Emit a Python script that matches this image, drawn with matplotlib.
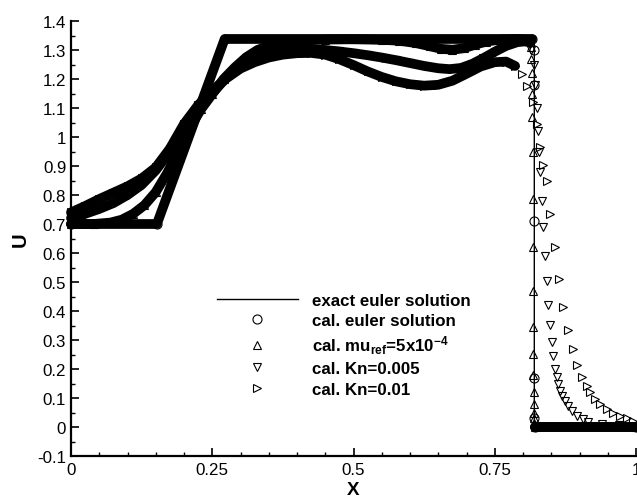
import matplotlib
matplotlib.use("Agg")
import matplotlib.pyplot as plt
from matplotlib.lines import Line2D
from matplotlib.ticker import MultipleLocator, FuncFormatter

plt.rcParams['font.family'] = ['Liberation Sans', 'DejaVu Sans']
plt.rcParams['mathtext.fontset'] = 'custom'
plt.rcParams['mathtext.rm'] = 'Liberation Sans:bold'
plt.rcParams['mathtext.bf'] = 'Liberation Sans:bold'
plt.rcParams['mathtext.default'] = 'bf'

# ---------------- data ----------------
# exact Euler solution (rarefaction, plateau, shock)
exact_x = [0.0, 0.152, 0.272, 0.82, 0.82, 1.0]
exact_u = [0.70, 0.70, 1.338, 1.338, 0.0, 0.0]

# calculated Euler solution
euler_x = [0.0, 0.152, 0.272, 0.816]
euler_u = [0.70, 0.70, 1.338, 1.338]
euler_shock_x = [0.819, 0.819, 0.820, 0.820, 0.820]
euler_shock_u = [1.30, 1.18, 0.71, 0.17, 0.03]
euler_tail_x = [0.822, 1.0]
euler_tail_u = [0.0, 0.0]

# calculated, mu_ref = 5e-4
mu_x = [0.0, 0.04, 0.07, 0.09, 0.11, 0.13, 0.15, 0.17, 0.19, 0.21, 0.23,
        0.25, 0.27, 0.29, 0.31, 0.33, 0.35, 0.375, 0.40, 0.45, 0.50, 0.55,
        0.58, 0.61, 0.635, 0.655, 0.675, 0.695, 0.715, 0.735, 0.76, 0.79, 0.812]
mu_u = [0.700, 0.700, 0.705, 0.715, 0.735, 0.765, 0.810, 0.875, 0.950, 1.030, 1.095,
        1.148, 1.200, 1.240, 1.275, 1.300, 1.315, 1.326, 1.332, 1.336, 1.337, 1.335,
        1.332, 1.324, 1.313, 1.304, 1.301, 1.306, 1.318, 1.329, 1.336, 1.338, 1.335]
mu_shock_x = [0.815, 0.815, 0.816, 0.816, 0.816, 0.817, 0.817, 0.817, 0.817,
              0.818, 0.818, 0.818, 0.819, 0.819, 0.819, 0.820, 0.820]
mu_shock_u = [1.31, 1.27, 1.22, 1.15, 1.069, 0.948, 0.786, 0.62, 0.469,
              0.345, 0.252, 0.179, 0.12, 0.08, 0.05, 0.03, 0.015]
mu_tail_x = [0.821, 1.0]
mu_tail_u = [0.0, 0.0]

# calculated, Kn = 0.005
kn1_x = [0.0, 0.025, 0.05, 0.075, 0.10, 0.125, 0.15, 0.175, 0.20, 0.225, 0.25,
         0.275, 0.30, 0.325, 0.35, 0.375, 0.40, 0.425, 0.45, 0.475, 0.50, 0.525,
         0.55, 0.575, 0.60, 0.625, 0.65, 0.67, 0.69, 0.71, 0.73, 0.75, 0.77,
         0.79, 0.805, 0.812]
kn1_u = [0.720, 0.735, 0.752, 0.772, 0.800, 0.835, 0.885, 0.950, 1.025, 1.090, 1.150,
         1.205, 1.245, 1.272, 1.289, 1.298, 1.302, 1.303, 1.300, 1.295, 1.289, 1.282,
         1.274, 1.265, 1.255, 1.245, 1.237, 1.234, 1.238, 1.252, 1.272, 1.294, 1.314,
         1.327, 1.330, 1.325]
kn1_shock_x = [0.815, 0.819, 0.822, 0.825, 0.827, 0.829, 0.830, 0.834, 0.836,
               0.839, 0.842, 0.844, 0.848, 0.851, 0.853, 0.857, 0.860, 0.862,
               0.865, 0.869, 0.874, 0.880, 0.887, 0.896, 0.906]
kn1_shock_u = [1.30, 1.25, 1.18, 1.10, 1.02, 0.95, 0.879, 0.779, 0.69,
               0.59, 0.503, 0.421, 0.352, 0.293, 0.245, 0.20, 0.172, 0.148,
               0.124, 0.107, 0.090, 0.072, 0.055, 0.038, 0.028]
kn1_tail_x = [0.915, 0.94, 0.97, 1.0]
kn1_tail_u = [0.018, 0.010, 0.006, 0.004]

# calculated, Kn = 0.01
kn2_x = [0.0, 0.025, 0.05, 0.075, 0.10, 0.125, 0.15, 0.175, 0.20, 0.225, 0.25,
         0.275, 0.30, 0.325, 0.35, 0.375, 0.40, 0.425, 0.45, 0.475, 0.50, 0.525,
         0.55, 0.575, 0.60, 0.625, 0.65, 0.675, 0.70, 0.725, 0.75, 0.77, 0.786]
kn2_u = [0.740, 0.762, 0.786, 0.808, 0.830, 0.857, 0.895, 0.960, 1.045, 1.110, 1.160,
         1.202, 1.236, 1.258, 1.274, 1.284, 1.289, 1.290, 1.284, 1.268, 1.248, 1.226,
         1.207, 1.192, 1.182, 1.177, 1.180, 1.194, 1.218, 1.243, 1.258, 1.260, 1.245]
kn2_shock_x = [0.798, 0.807, 0.818, 0.825, 0.830, 0.836, 0.842, 0.848, 0.857,
               0.864, 0.871, 0.880, 0.888, 0.896, 0.904, 0.913, 0.919, 0.927,
               0.936, 0.949, 0.959, 0.972, 0.984, 0.995]
kn2_shock_u = [1.217, 1.176, 1.12, 1.045, 0.966, 0.905, 0.848, 0.734, 0.62,
               0.51, 0.414, 0.334, 0.269, 0.214, 0.172, 0.141, 0.12, 0.097,
               0.079, 0.062, 0.048, 0.038, 0.031, 0.021]

x_ticks = [0, 0.25, 0.5, 0.75, 1]

labels = ["exact euler solution",
          "cal. euler solution",
          r"cal. mu$_{ref}$=5x10$^{-4}$",
          "cal. Kn=0.005",
          "cal. Kn=0.01"]

# ---------------- figure ----------------
W, H = 637, 502
fig = plt.figure(figsize=(W / 100, H / 100), dpi=100)
ax = fig.add_axes([71 / W, 1 - 457 / H, 565 / W, 435 / H])

BAND = 7.0
MEW = 0.8
CIRC = 6.5
TRI = 5.9


def band(x, u, marker, ms):
    """Densely sampled stretch: the overlapping symbols merge into a band."""
    ax.plot(x, u, color='k', lw=BAND, solid_capstyle='round',
            solid_joinstyle='round', zorder=2, clip_on=False)
    ax.plot(x, u, ls='none', marker=marker, ms=ms, mfc='none', mec='k',
            mew=MEW, zorder=3, clip_on=False)


def symbols(x, u, marker, ms):
    ax.plot(x, u, ls='none', marker=marker, ms=ms, mfc='none', mec='k',
            mew=MEW, zorder=3, clip_on=False)


band(kn2_x, kn2_u, '>', TRI)
symbols(kn2_shock_x, kn2_shock_u, '>', TRI)

band(kn1_x, kn1_u, 'v', TRI)
symbols(kn1_shock_x, kn1_shock_u, 'v', TRI)
symbols(kn1_tail_x, kn1_tail_u, 'v', TRI)

band(mu_x, mu_u, '^', TRI)
symbols(mu_shock_x, mu_shock_u, '^', TRI)
band(mu_tail_x, mu_tail_u, '^', TRI)

band(euler_x, euler_u, 'o', CIRC)
symbols(euler_shock_x, euler_shock_u, 'o', CIRC)
band(euler_tail_x, euler_tail_u, 'o', CIRC)

ax.plot(exact_x, exact_u, color='k', lw=1.0, zorder=4)

# ---------------- axes ----------------
ax.set_xlim(0, 1)
ax.set_ylim(-0.1, 1.4)
for s in ('top', 'right'):
    ax.spines[s].set_visible(False)
for s in ('left', 'bottom'):
    ax.spines[s].set_linewidth(1.6)

ax.set_xticks(x_ticks)
ax.xaxis.set_minor_locator(MultipleLocator(0.05))
ax.yaxis.set_major_locator(MultipleLocator(0.1))
ax.yaxis.set_minor_locator(MultipleLocator(0.05))
fmt = FuncFormatter(lambda v, p: f"{round(v, 6) + 0.0:g}")
ax.xaxis.set_major_formatter(fmt)
ax.yaxis.set_major_formatter(fmt)
ax.tick_params(which='major', direction='in', length=5.5, width=1.2,
               labelsize=12.2, pad=3.5)
ax.tick_params(which='minor', direction='in', length=3.0, width=1.0)
ax.tick_params(axis='x', which='major', pad=4.5)

ax.set_xlabel("X", fontsize=13.5, fontweight='bold', labelpad=3)
ax.set_ylabel("U", fontsize=14.5, fontweight='bold', labelpad=5)

handles = [
    Line2D([], [], color='k', lw=1.0),
    Line2D([], [], ls='none', marker='o', ms=CIRC, mfc='none', mec='k', mew=MEW),
    Line2D([], [], ls='none', marker='^', ms=TRI, mfc='none', mec='k', mew=MEW),
    Line2D([], [], ls='none', marker='v', ms=TRI, mfc='none', mec='k', mew=MEW),
    Line2D([], [], ls='none', marker='>', ms=TRI, mfc='none', mec='k', mew=MEW),
]
leg = ax.legend(handles, labels, loc='upper left',
                bbox_to_anchor=(217 / W, 1 - 294 / H),
                bbox_transform=fig.transFigure, frameon=False,
                borderpad=0, borderaxespad=0, handlelength=4.76,
                handletextpad=0.82, labelspacing=0.31,
                prop={'weight': 'bold', 'size': 12.2})

fig.savefig("out.png", dpi=100)
